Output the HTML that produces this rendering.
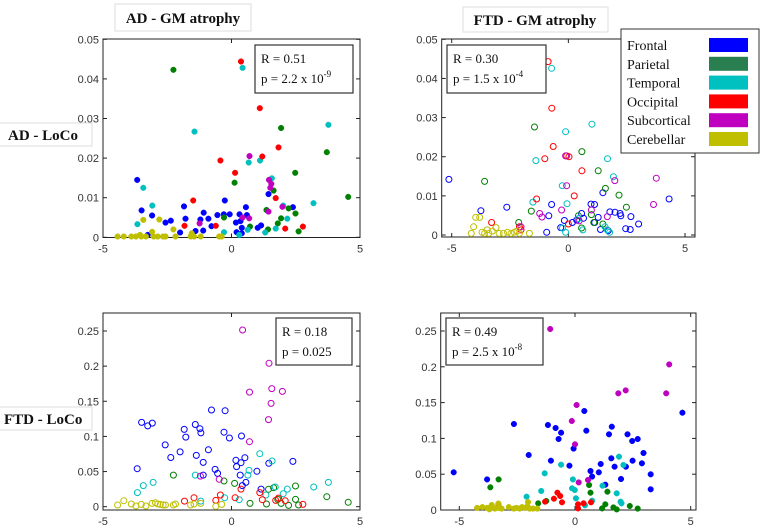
<!DOCTYPE html>
<html><head><meta charset="utf-8">
<style>
html,body{margin:0;padding:0;background:#fff;}
svg{display:block;}
.tick{font-family:"Liberation Sans",sans-serif;font-size:11px;fill:#333;}
.ttl{font-family:"Liberation Serif",serif;font-weight:bold;font-size:15px;fill:#111;}
.st{font-family:"Liberation Serif",serif;font-size:13px;fill:#111;}
.lg{font-family:"Liberation Serif",serif;font-size:14px;fill:#111;}
</style></head>
<body>
<svg id="chart" width="764" height="532" viewBox="0 0 764 532">
 <g>
  <rect x="115" y="4" width="136" height="27" fill="#fff" stroke="#ddd"/>
  <text class="ttl" x="183" y="23" text-anchor="middle">AD - GM atrophy</text>
 </g>
 <g>
  <rect x="463" y="7" width="145" height="25" fill="#fff" stroke="#ddd"/>
  <text class="ttl" x="535" y="25" text-anchor="middle">FTD - GM atrophy</text>
 </g>
 <g>
  <rect x="-1" y="123" width="93" height="23" fill="#fff" stroke="#ddd"/>
  <text class="ttl" x="8" y="140">AD - LoCo</text>
 </g>
 <g>
  <rect x="-1" y="407" width="93" height="23" fill="#fff" stroke="#ddd"/>
  <text class="ttl" x="4" y="424">FTD - LoCo</text>
 </g>
 <g id="panels"></g>
 <g>
  <rect x="621" y="29" width="138" height="124" fill="#fff" stroke="#333"/>
  <g id="legend-items"></g>
 </g>
</svg>
<script>
const categories = ["Frontal","Parietal","Temporal","Occipital","Subcortical","Cerebellar"];
const colors = ["#0000ff","#008000","#00bfbf","#ff0000","#bf00bf","#bfbf00"];
const legendColors = ["#0000ff","#2a7f50","#00c0c0","#ff0000","#bf00bf","#bfbf00"];

// Panel 1: AD atrophy vs AD LoCo (filled)
const p1Frontal = [[-3.67,0.0145],[-3.5,0.0068],[-3.09,0.0055],[-2.57,0.0037],[-2.36,0.0042],[-1.85,0.0078],[-1.79,0.0047],[-2.0,0.0012],[-1.4,0.0016],[-1.21,0.0045],[-1.08,0.0062],[-1.1,0.0017],[-0.9,0.0047],[-0.78,0.0028],[-0.55,0.0056],[-0.26,0.0093],[-0.3,0.0058],[-0.07,0.0058],[0.17,0.0037],[0.2,0.0013],[0.31,0.0058],[0.35,0.0041],[0.4,0.0024],[0.56,0.0076],[0.6,0.0056],[1.02,0.0024],[1.15,0.003],[1.44,0.0109],[2.39,0.0076],[-3.26,0.0006],[0.4,0.001]];
const p1Parietal = [[-2.26,0.0423],[1.93,0.0276],[3.71,0.0215],[2.48,0.0163],[0.12,0.0138],[1.64,0.0118],[4.54,0.0102],[2.22,0.0073],[2.49,0.006],[1.36,0.0069],[1.93,0.0048],[-0.29,0.005],[2.61,0.0015],[1.42,0.002],[0.72,0.0027],[1.8,0.0035]];
const p1Temporal = [[0.43,0.0428],[-1.44,0.0267],[3.77,0.0284],[1.11,0.0194],[0.67,0.0189],[-3.43,0.0125],[1.57,0.0149],[-3.08,0.008],[2.01,0.008],[3.19,0.0086],[-3.66,0.0033],[2.17,0.0047],[1.72,0.0022],[-0.29,0.0013],[1.31,0.0012],[0.3,0.0006],[0.63,0.0019]];
const p1Occipital = [[0.37,0.0444],[1.1,0.0326],[1.83,0.0227],[1.2,0.0204],[-0.43,0.0194],[0.14,0.0163],[-1.49,0.0093],[1.72,0.0099],[-1.83,0.0029],[2.09,0.0022],[2.78,0.0027],[-0.61,0.0029]];
const p1Subcortical = [[0.7,0.0205],[1.46,0.0145],[1.55,0.0135],[1.51,0.0125],[1.44,0.0065],[1.98,0.0077],[0.43,0.005],[0.69,0.0048],[-1.24,0.0035]];
const p1Cerebellar = [[-4.43,0.0002],[-4.19,0.0002],[-3.9,0.0002],[-3.72,0.0002],[-3.51,0.0002],[-3.33,0.0002],[-3.03,0.0002],[-2.87,0.0002],[-2.66,0.0002],[-2.57,0.0002],[-2.18,0.0002],[-1.59,0.0002],[-1.46,0.0002],[-1.2,0.0002],[-0.48,0.0002],[-0.38,0.0002],[-3.43,0.0044],[-2.81,0.0045],[-2.26,0.002],[-3.09,0.0014],[-1.55,0.001],[-3.56,0.0006]];

// Panel 2: FTD atrophy vs AD LoCo (open)
const p2Frontal = [[-5.12,0.0142],[-3.75,0.0062],[-2.64,0.0071],[-0.72,0.0078],[-0.84,0.0049],[-0.93,0.0007],[-0.33,0.0019],[-0.17,0.0037],[0.17,0.0032],[0.36,0.0038],[0.57,0.0055],[0.97,0.0079],[1.12,0.0078],[1.13,0.0032],[1.28,0.0045],[1.38,0.0014],[1.48,0.0108],[1.78,0.0059],[2.0,0.0058],[2.22,0.0055],[2.25,0.0049],[2.46,0.0016],[2.65,0.0014],[2.68,0.0047],[3.01,0.0028],[4.32,0.0092],[1.71,0.0011],[0.65,0.0043]];
const p2Parietal = [[-3.29,0.0422],[-1.45,0.0276],[0.58,0.0213],[1.28,0.0164],[1.59,0.0119],[2.17,0.0102],[-3.59,0.0137],[-1.59,0.0061],[2.49,0.0071],[0.99,0.0052],[0.43,0.0049],[0.57,0.0018],[1.48,0.0028],[-2.13,0.0032],[1.09,0.0032]];
const p2Temporal = [[-0.72,0.0426],[1.01,0.0283],[-0.12,0.0264],[-1.39,0.019],[1.68,0.0195],[1.93,0.0149],[-0.26,0.0126],[-1.52,0.0084],[-0.06,0.008],[-0.25,0.0018],[-0.12,0.0007],[0.62,0.0013],[1.57,0.0021],[1.77,0.0007],[1.67,0.0013],[0.43,0.0042]];
const p2Occipital = [[-0.87,0.0443],[-0.71,0.0324],[-0.65,0.0226],[-1.01,0.0195],[-0.07,0.0202],[0.03,0.02],[0.58,0.0164],[0.25,0.01],[-1.36,0.0092],[-3.29,0.0032],[-2.1,0.0021],[0,0.0028],[-2.03,0.0013]];
const p2Subcortical = [[-0.12,0.0202],[-0.07,0.0126],[1.99,0.0139],[3.77,0.0145],[3.65,0.0078],[-0.29,0.0064],[-1.23,0.0055],[-1.13,0.0046],[0.46,0.0036],[1.67,0.0047],[0.99,0.0064],[-2.03,0.0021]];
const p2Cerebellar = [[-3.97,0.0045],[-3.8,0.0045],[-4.16,0.0004],[-3.7,0.0007],[-3.59,0.0004],[-3.48,0.0013],[-3.41,0.0004],[-3.26,0.001],[-3.1,0.0019],[-2.97,0.0004],[-2.78,0.0004],[-2.61,0.0007],[-2.46,0.0004],[-2.32,0.0007],[-2.2,0.001],[-2.1,0.0004],[-1.67,0.0004],[-4.06,0.0021]];

// Panel 3: AD atrophy vs FTD LoCo (open)
const p3Frontal = [[-3.5,0.12],[-3.26,0.115],[-3.08,0.119],[-3.67,0.054],[-2.58,0.088],[-2.36,0.07],[-2.0,0.078],[-1.84,0.11],[-1.78,0.099],[-1.41,0.117],[-1.23,0.111],[-1.19,0.105],[-1.37,0.073],[-1.1,0.063],[-1.1,0.045],[-0.9,0.081],[-0.78,0.1376],[-0.25,0.1366],[-0.29,0.106],[-0.08,0.0977],[-0.64,0.0531],[-0.54,0.0474],[0.17,0.066],[0.2,0.057],[0.39,0.1006],[0.37,0.0626],[0.52,0.0697],[0.34,0.045],[0.56,0.0346],[0.42,0.03],[0.99,0.0503],[1.15,0.025],[1.45,0.0617],[2.39,0.0645]];
const p3Parietal = [[-2.26,0.045],[-0.29,0.0365],[0.12,0.0332],[0.72,0.0047],[1.36,0.0038],[1.44,0.0247],[1.64,0.027],[2.49,0.0294],[2.49,0.0104],[1.93,0.0047],[2.22,0.0019],[2.61,0.0024],[3.71,0.0142],[4.54,0.0062],[1.8,0.0104]];
const p3Temporal = [[-3.66,0.02],[-3.43,0.03],[-3.05,0.0346],[-1.41,0.045],[-1.2,0.008],[-0.27,0.0128],[0.3,0.01],[0.64,0.045],[0.68,0.0517],[1.1,0.0754],[1.58,0.065],[1.7,0.028],[2.17,0.025],[3.2,0.028],[3.77,0.0346],[1.34,0.0166],[2.01,0.0185]];
const p3Occipital = [[-1.46,0.0128],[-1.83,0.008],[-0.43,0.0166],[-0.61,0.009],[0.14,0.0128],[0.37,0.025],[1.1,0.02],[1.2,0.01],[1.72,0.009],[1.83,0.0123],[2.09,0.0085],[2.78,0.0033]];
const p3Subcortical = [[0.43,0.2514],[1.46,0.204],[1.57,0.168],[1.98,0.164],[0.7,0.163],[1.54,0.147],[1.44,0.124],[0.7,0.0925],[-0.48,0.039],[-1.21,0.0436]];
const p3Cerebellar = [[-4.43,0.0024],[-4.19,0.0085],[-3.9,0.0038],[-3.72,0.001],[-3.51,0.0033],[-3.33,0.001],[-3.09,0.0047],[-2.96,0.0057],[-2.87,0.0038],[-2.77,0.0033],[-2.66,0.0024],[-2.57,0.0024],[-2.26,0.0024],[-2.18,0.0038],[-1.59,0.0024],[-1.46,0.0038],[-1.2,0.0047],[-0.61,0.0005],[-0.38,0.0033]];

// Panel 4: FTD atrophy vs FTD LoCo (filled)
const p4Frontal = [[-5.24,0.0526],[-3.8,0.0428],[-2.64,0.1201],[-2.0,0.0768],[-1.17,0.1187],[-1.04,0.0689],[-0.84,0.1145],[-0.6,0.108],[-0.71,0.0992],[-0.24,0.0619],[-0.06,0.0857],[0.4,0.1383],[0.49,0.1108],[0.67,0.0545],[0.74,0.0466],[1.03,0.0526],[1.11,0.0642],[1.31,0.0354],[1.47,0.1057],[1.59,0.1164],[1.57,0.0722],[1.71,0.0605],[1.99,0.0433],[2.2,0.0605],[2.27,0.1057],[2.47,0.0964],[2.49,0.0689],[2.71,0.0992],[2.89,0.0652],[2.96,0.0796],[3.27,0.0498],[3.27,0.0289],[4.64,0.1359]];
const p4Parietal = [[-3.66,0.0317],[-3.3,0.0428],[-1.59,0.0093],[-1.24,0.0126],[0.61,0.0349],[0.67,0.0242],[1.4,0.0256],[1.31,0.0079],[1.17,0.0023],[1.66,0.0037],[1.8,0.0009],[2.37,0.0056],[2.71,0.0019]];
const p4Temporal = [[-1.31,0.0512],[-1.46,0.0265],[-2.09,0.0186],[-0.6,0.0633],[-0.09,0.0428],[-0.13,0.0303],[-0.01,0.0279],[0.04,0.0163],[0.43,0.0065],[0.74,0.013],[1.19,0.034],[1.9,0.0745],[2.09,0.0628],[1.97,0.0116],[1.8,0.0233],[2.01,0.0093]];
const p4Occipital = [[-3.31,0.0079],[-1.29,0.0116],[-0.91,0.0158],[-0.76,0.0242],[-0.64,0.0196],[-0.56,0.0107],[0.13,0.0079],[0.13,0.0023],[0.37,0.0093],[0.69,0.0107],[-2.03,0.0037]];
const p4Subcortical = [[-1.07,0.2528],[4.07,0.2034],[3.94,0.163],[2.19,0.167],[1.87,0.163],[0.07,0.1466],[-0.14,0.1243],[0,0.0917],[0.16,0.0386],[0.56,0.0419]];
const p4Cerebellar = [[-4.23,0.003],[-4.0,0.004],[-3.8,0.003],[-3.7,0.001],[-3.6,0.004],[-3.46,0.002],[-3.31,0.003],[-3.17,0.002],[-2.86,0.004],[-2.64,0.002],[-2.53,0.003],[-2.39,0.002],[-2.29,0.004],[-2.17,0.003],[-2.06,0.005],[-1.96,0.002],[-1.81,0.002],[-1.63,0.002],[-2.03,0.011],[-3.31,0.009],[-3.6,0.007]];

const yTicksTop = [0,0.01,0.02,0.03,0.04,0.05];
const yTickLabelsTop = ["0","0.01","0.02","0.03","0.04","0.05"];
const yTicksBot = [0,0.05,0.1,0.15,0.2,0.25];
const yTickLabelsBot = ["0","0.05","0.1","0.15","0.2","0.25"];
const xTicks = [-5,0,5];
const xTickLabels = ["-5","0","5"];
const statsP1 = ["R = 0.51","p = 2.2 x 10","-9"];
const statsP2 = ["R = 0.30","p = 1.5 x 10","-4"];
const statsP3 = ["R = 0.18","p = 0.025",""];
const statsP4 = ["R = 0.49","p = 2.5 x 10","-8"];

const NS = "http://www.w3.org/2000/svg";
function mk(tag, attrs, parent){const e=document.createElementNS(NS,tag);for(const k in attrs)e.setAttribute(k,attrs[k]);parent.appendChild(e);return e;}
function linScale(d0,d1,r0,r1){return v=>r0+(v-d0)*(r1-r0)/(d1-d0);}

const panelDefs = [
 {name:"ad-atrophy-vs-ad-loco",box:[103,39,360,237.5],sx:linScale(-5,5,103,360),sy:linScale(0,0.05,237.3,39.3),yt:yTicksTop,yl:yTickLabelsTop,filled:true,
  data:[p1Frontal,p1Parietal,p1Temporal,p1Occipital,p1Subcortical,p1Cerebellar],stats:statsP1,sb:[255,45,98,48]},
 {name:"ftd-atrophy-vs-ad-loco",box:[441.7,39,695,237],sx:linScale(-5,5,451.7,685),sy:linScale(0,0.05,235,39.3),yt:yTicksTop,yl:yTickLabelsTop,filled:false,
  data:[p2Frontal,p2Parietal,p2Temporal,p2Occipital,p2Subcortical,p2Cerebellar],stats:statsP2,sb:[447,45,99,48]},
 {name:"ad-atrophy-vs-ftd-loco",box:[103,313,360,510],sx:linScale(-5,5,103,360),sy:linScale(0,0.25,506.7,331),yt:yTicksBot,yl:yTickLabelsBot,filled:false,
  data:[p3Frontal,p3Parietal,p3Temporal,p3Occipital,p3Subcortical,p3Cerebellar],stats:statsP3,sb:[276,318,76,47]},
 {name:"ftd-atrophy-vs-ftd-loco",box:[440.7,313,696,510],sx:linScale(-5,5,459.3,690.7),sy:linScale(0,0.25,510,331),yt:yTicksBot,yl:yTickLabelsBot,filled:true,
  data:[p4Frontal,p4Parietal,p4Temporal,p4Occipital,p4Subcortical,p4Cerebellar],stats:statsP4,sb:[446,318,97,47]}
];

const root = document.getElementById("panels");
panelDefs.forEach((p,pi)=>{
 const g = mk("g",{},root);
 
 
 const [x0,y0,x1,y1]=p.box;
 const ax = mk("g",{},g);
 
 
 mk("rect",{x:x0,y:y0,width:x1-x0,height:y1-y0,fill:"#fff",stroke:"#222","stroke-width":1},ax);
 p.yt.forEach((v,i)=>{
  const y=p.sy(v);
  mk("line",{x1:x0,x2:x0+4,y1:y,y2:y,stroke:"#222"},ax);
  mk("line",{x1:x1,x2:x1-4,y1:y,y2:y,stroke:"#222"},ax);
  const t=mk("text",{x:x0-4,y:y+4,"text-anchor":"end",class:"tick"},ax);
  t.textContent=p.yl[i];
  
  
 });
 xTicks.forEach((v,i)=>{
  const x=p.sx(v);
  mk("line",{x1:x,x2:x,y1:y1,y2:y1-4,stroke:"#222"},ax);
  mk("line",{x1:x,x2:x,y1:y0,y2:y0+4,stroke:"#222"},ax);
  const t=mk("text",{x:x,y:y1+15,"text-anchor":"middle",class:"tick"},ax);
  t.textContent=xTickLabels[i];
  
  
 });
 const pts = mk("g",{},g);
 
 
 p.data.forEach((arr,ci)=>{
  arr.forEach(d=>{
   const c = mk("circle",{cx:p.sx(d[0]).toFixed(1),cy:p.sy(d[1]).toFixed(1),r:p.filled?2.8:3,
     fill:p.filled?colors[ci]:"none",stroke:colors[ci],"stroke-width":p.filled?0.5:1},pts);
   
   
  });
 });
 const sg = mk("g",{},g);
 
 
 const [bx,by,bw,bh]=p.sb;
 mk("rect",{x:bx,y:by,width:bw,height:bh,fill:"#fff",stroke:"#333","stroke-width":1.2},sg);
 const t1=mk("text",{x:bx+6,y:by+18,class:"st"},sg); t1.textContent=p.stats[0];
 const t2=mk("text",{x:bx+6,y:by+38,class:"st"},sg); t2.textContent=p.stats[1];
 if(p.stats[2]){const ts=mk("tspan",{dy:-6,"font-size":"9px"},t2); ts.textContent=p.stats[2];}
});

const li = document.getElementById("legend-items");
categories.forEach((c,i)=>{
 const g=mk("g",{},li);
 
 
 const y=45+i*18.8;
 const t=mk("text",{x:627,y:y+5,class:"lg"},g); t.textContent=c;
 mk("rect",{x:709,y:y-7,width:39,height:14,fill:legendColors[i]},g);
});
</script>
</body></html>
